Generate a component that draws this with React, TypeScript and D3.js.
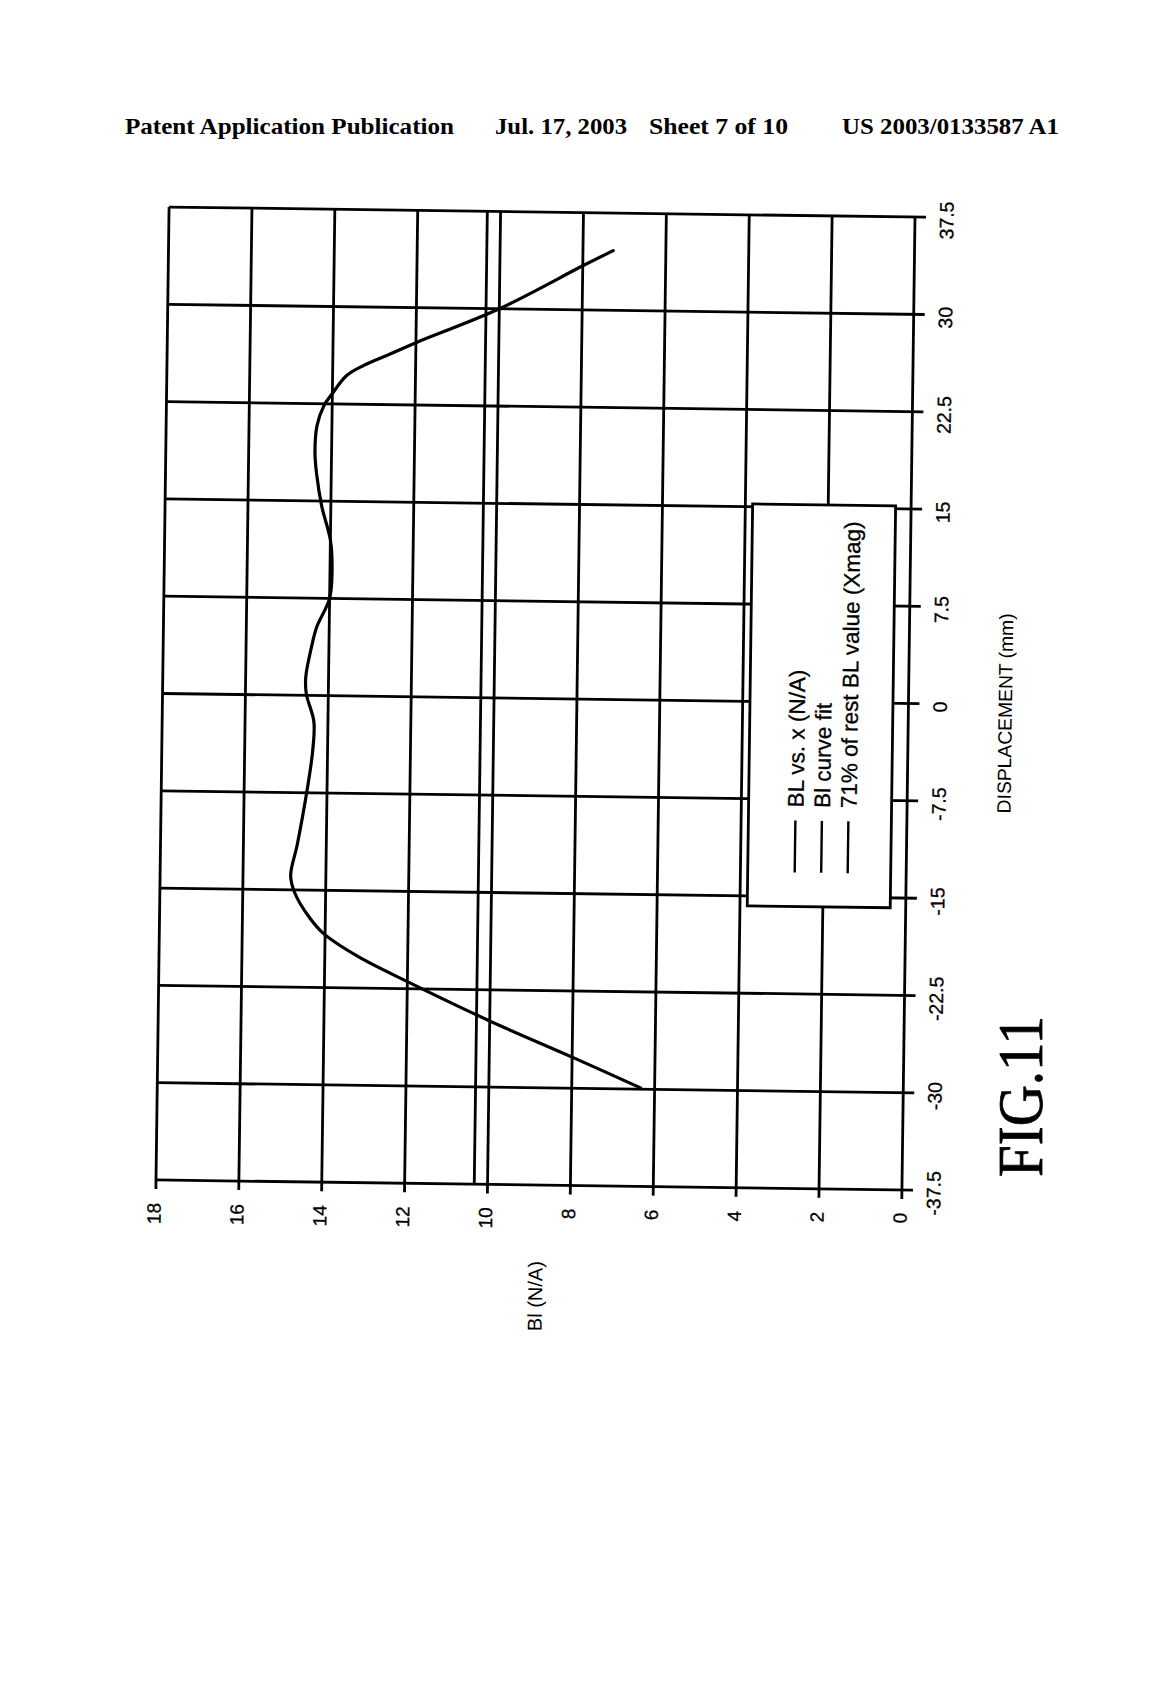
import React from "react";
import * as d3 from "d3";

// ---- data ----
const blTicks = [0, 2, 4, 6, 8, 10, 12, 14, 16, 18];
const dispTicks = [-37.5, -30, -22.5, -15, -7.5, 0, 7.5, 15, 22.5, 30, 37.5];
const dispTickLabels = ["-37.5", "-30", "-22.5", "-15", "-7.5", "0", "7.5", "15", "22.5", "30", "37.5"];

// displacement (mm)
const displacement = [
  -29.9, -27.6, -24.9, -21.95, -20.1, -18.3, -17.0, -15.2, -13.9, -11.5,
  -7.7, -4.3, -2.0, 0.1, 1.4, 3.6, 5.3, 7.5, 9.7, 12.0, 14.6, 17.0, 18.7, 20.8, 22.35,
  23.3, 24.7, 25.5, 26.4, 27.3, 30.0, 33.4, 34.6,
];
// Bl (N/A)
const blValues = [
  6.34, 8.0, 10.0, 12.0, 13.18, 14.05, 14.41, 14.75, 14.85, 14.7,
  14.5, 14.36, 14.34, 14.53, 14.55, 14.43, 14.3, 14.0, 13.95, 14.0, 14.22, 14.35, 14.4, 14.36, 14.2,
  14.0, 13.66, 13.25, 12.62, 12.0, 10.0, 8.0, 7.27,
];
const xmagBl = 10.32; // 71% of rest BL value

const legendLabels = ["BL vs. x (N/A)", "Bl curve fit", "71% of rest BL value (Xmag)"];

export default function App() {
  const left = 162.5, right = 908.5, top = 212, bottom = 1185;
  const cx = 535.5, cy = 698.5;
  const x = d3.scaleLinear().domain([0, 18]).range([right, left]);
  const y = d3.scaleLinear().domain([-37.5, 37.5]).range([bottom, top]);

  const pts: [number, number][] = displacement.map((d, i) => [d, blValues[i]]);
  const line = d3
    .line<[number, number]>()
    .x((d) => x(d[1]))
    .y((d) => y(d[0]))
    .curve(d3.curveCatmullRom.alpha(0.5));

  const sans = "'Liberation Sans', Arial, sans-serif";
  const serif = "'Liberation Serif', 'Times New Roman', serif";
  const gw = 2.8;

  const legX = 750, legY = 501, legW = 143, legH = 402;
  const rowX = [797, 823.5, 850];

  return (
    <svg width={1160} height={1704} style={{ position: "absolute", left: 0, top: 0, background: "#fff" }}>
      <rect x={0} y={0} width={1160} height={1704} fill="#fff" />
      {/* header */}
      <g fontFamily={serif} fontWeight="bold" fontSize={24} fill="#000">
        <text x={125} y={134} textLength={329} lengthAdjust="spacingAndGlyphs">Patent Application Publication</text>
        <text x={495} y={134} textLength={132} lengthAdjust="spacingAndGlyphs">Jul. 17, 2003</text>
        <text x={649} y={134} textLength={139} lengthAdjust="spacingAndGlyphs">Sheet 7 of 10</text>
        <text x={842} y={134} textLength={217} lengthAdjust="spacingAndGlyphs">US 2003/0133587 A1</text>
      </g>

      <g transform={`rotate(0.77, ${cx}, ${cy})`}>
        {/* vertical gridlines (Bl values) with ticks below */}
        {blTicks.map((v) => (
          <line key={"b" + v} x1={x(v)} x2={x(v)} y1={top} y2={bottom + 9} stroke="#000" strokeWidth={gw} />
        ))}
        {/* 71% line */}
        <line x1={x(xmagBl)} x2={x(xmagBl)} y1={top} y2={bottom} stroke="#000" strokeWidth={gw} />
        {/* horizontal gridlines (displacement) with ticks right */}
        {dispTicks.map((v) => (
          <line key={"d" + v} x1={left} x2={right + 11} y1={y(v)} y2={y(v)} stroke="#000" strokeWidth={gw} />
        ))}

        {/* curve */}
        <path d={line(pts) || ""} fill="none" stroke="#000" strokeWidth={3.2} strokeLinejoin="round" strokeLinecap="round" />

        {/* legend */}
        <rect x={legX} y={legY} width={legW} height={legH} fill="#fff" stroke="#000" strokeWidth={2.8} />
        {legendLabels.map((t, i) => (
          <g key={t}>
            <line x1={rowX[i]} x2={rowX[i]} y1={817} y2={869} stroke="#000" strokeWidth={2.4} />
            <text
              transform={`translate(${rowX[i] + 8}, 804) rotate(-90)`}
              fontFamily={sans}
              fontSize={22.5}
              fill="#000"
              stroke="#000"
              strokeWidth={0.3}
            >
              {t}
            </text>
          </g>
        ))}

        {/* Bl tick labels */}
        {blTicks.map((v) => (
          <text
            key={"bl" + v}
            transform={`translate(${x(v) + 5}, 1208) rotate(-90)`}
            textAnchor="end"
            fontFamily={sans}
            fontSize={19}
            fill="#000"
            stroke="#000"
            strokeWidth={0.3}
          >
            {String(v)}
          </text>
        ))}
        {/* displacement tick labels */}
        {dispTicks.map((v, i) => (
          <text
            key={"dl" + v}
            transform={`translate(${right + 38.5}, ${y(v) + 3}) rotate(-90)`}
            textAnchor="middle"
            fontFamily={sans}
            fontSize={19.5}
            fill="#000"
            stroke="#000"
            strokeWidth={0.3}
          >
            {dispTickLabels[i]}
          </text>
        ))}

        {/* axis titles */}
        <text transform={`translate(550, 1296) rotate(-90)`} textAnchor="middle" fontFamily={sans} fontSize={20} fill="#000">
          Bl (N/A)
        </text>
        <text transform={`translate(1012, 707) rotate(-90)`} textAnchor="middle" fontFamily={sans} fontSize={19.3} fill="#000">
          DISPLACEMENT (mm)
        </text>
      </g>

      {/* figure label */}
      <text
        transform="translate(1042, 1177) rotate(-90)"
        fontFamily={serif}
        fontSize={64}
        fill="#000"
        stroke="#000"
        strokeWidth={0.8}
        textLength={161}
        lengthAdjust="spacingAndGlyphs"
      >
        FIG.11
      </text>
    </svg>
  );
}
